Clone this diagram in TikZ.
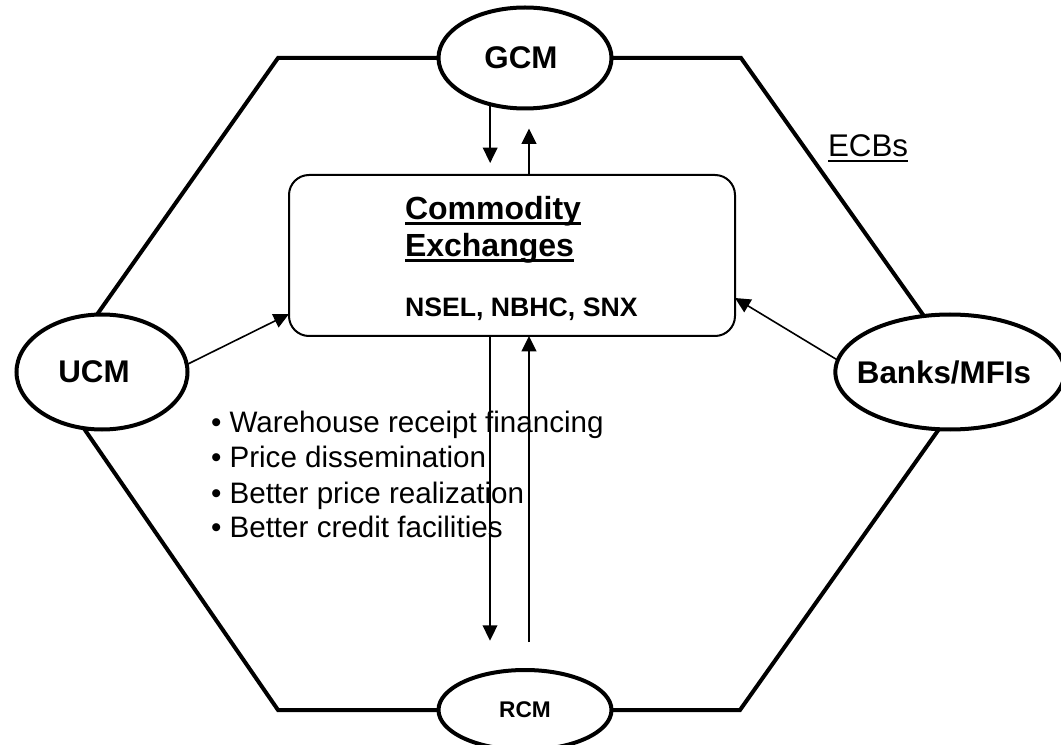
\documentclass[tikz,border=0pt]{standalone}
\usepackage{fontspec}
\setmainfont{Liberation Sans}
\usetikzlibrary{shapes.geometric,arrows.meta,calc}
\newcommand\myul[3]{\setbox0\hbox{#3}\rlap{\rule[-#1]{\wd0}{#2}}\box0}
\begin{document}
\begin{tikzpicture}[x=0.75pt,y=-0.75pt,
 hex/.style={line width=3pt, line join=miter},
 ell/.style={ellipse, draw, line width=3pt, inner sep=0pt, outer sep=0pt, font=\bfseries\fontsize{23.5}{28}\selectfont},
 arr/.style={line width=1.2pt, -{Triangle[length=11.5pt,width=11pt]}},
 lbl/.style={inner sep=0pt, outer sep=0pt, anchor=base west},
 bigbold/.style={font=\bfseries\fontsize{24}{28}\selectfont},
 bul/.style={lbl, font=\fontsize{22.2}{26}\selectfont},
]
\useasboundingbox (0,0) rectangle (1061,745);
% nodes
\node[ell, minimum width=129.75pt, minimum height=75.75pt] (GCM) at (525,58) {\kern-6pt GCM};
\node[ell, minimum width=128.25pt, minimum height=86.25pt] (UCM) at (102,372) {\kern-12pt\raisebox{-3pt}{UCM}};
\node[ell, minimum width=151.5pt, minimum height=86.25pt] (Banks) at (950,372) {\kern-9pt\raisebox{-3pt}{Banks/MFIs}};
\node[ell, minimum width=129.75pt, minimum height=60pt, font=\bfseries\fontsize{17}{20}\selectfont] (RCM) at (525,710) {RCM};
\node[draw, rounded corners=15pt, line width=1.5pt, minimum width=334.5pt, minimum height=120.75pt, inner sep=0pt, outer sep=0pt] (box) at (512,255.5) {};
% box texts
\node[lbl, bigbold] (t1) at (405,220) {\myul{3.75pt}{2.25pt}{Commodity}};
\node[lbl, bigbold] (t2) at (405,257) {\myul{3.75pt}{2.25pt}{Exchanges}};
\node[lbl, font=\bfseries\fontsize{20}{24}\selectfont] (t3) at (405,317) {NSEL, NBHC, SNX};
% bullets
\node[bul] (b1) at (211,432) {• Warehouse receipt financing};
\node[bul] (b2) at (211,467) {• Price dissemination};
\node[bul] (b3) at (211,503) {• Better price realization};
\node[bul] (b4) at (211,537) {• Better credit facilities};
% ECBs
\node[lbl, font=\fontsize{23.5}{28}\selectfont] (ecb) at (828,157) {\myul{4pt}{1.5pt}{ECBs}};
% hexagon vertices
\coordinate (TL) at (278,58);
\coordinate (TR) at (741,58);
\coordinate (BL) at (278,710);
\coordinate (BR) at (740,710);
\draw[hex] (UCM.95) -- (TL) -- (GCM.west);
\draw[hex] (GCM.east) -- (TR) -- (Banks.115);
\draw[hex] (Banks.-101) -- (BR) -- (RCM.east);
\draw[hex] (RCM.west) -- (BL) -- (UCM.-108);
% arrows
\draw[arr, shorten >=9pt] (GCM.-127) -- (GCM.-127 |- box.north);
\draw[arr, shorten >=15pt] ($(box.north)+(17,0)$) -- ($(GCM.south)+(4,0)$);
\draw[arr, shorten >=22pt] ($(box.south)+(-22,0)$) -- ($(RCM.north)+(-35,0)$);
\draw[arr, shorten <=21pt] ($(RCM.north)+(4,0)$) -- ($(box.south)+(17,0)$);
\draw[arr] (UCM.5) -- ($(box.south west)+(0,-22)$);
\draw[arr] (Banks.174) -- ($(box.south east)+(0,-38)$);
\end{tikzpicture}
\end{document}
